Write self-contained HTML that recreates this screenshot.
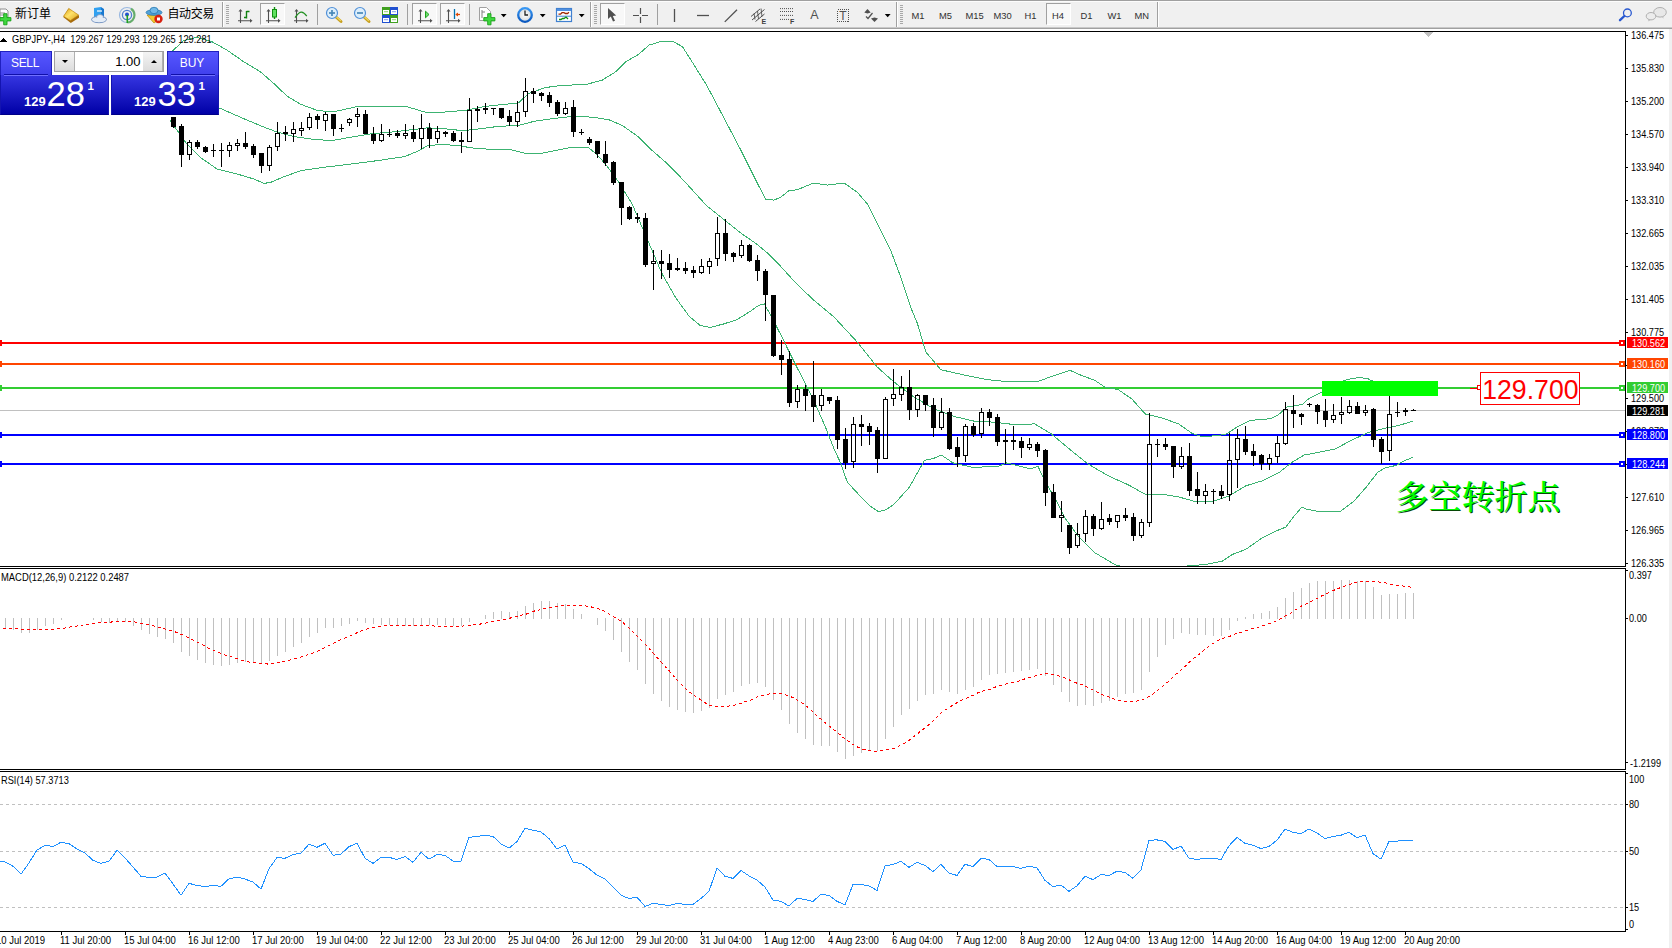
<!DOCTYPE html><html><head><meta charset="utf-8"><title>GBPJPY H4</title><style>
html,body{margin:0;padding:0;background:#fff}
body{width:1672px;height:948px;position:relative;overflow:hidden;font-family:"Liberation Sans","Noto Sans CJK SC",sans-serif}
.t{position:absolute;white-space:nowrap;line-height:1.15;font-family:"Liberation Sans","Noto Sans CJK SC",sans-serif}
#panel .t{line-height:1.15}
.pb{position:absolute;background:linear-gradient(#5656ff,#4040ec);box-sizing:border-box;border:1px solid #2020c0;border-bottom:none}
.pp{position:absolute;background:linear-gradient(#3636e2,#0000a6);box-sizing:border-box;border-left:1px solid #1414b0;border-right:1px solid #1414b0;border-bottom:1px solid #000088}
.sb{position:absolute;background:linear-gradient(#f4f4f4,#dcdcdc);border-right:1px solid #b0b0b0;box-sizing:border-box}
.tri{position:absolute;width:0;height:0;border-left:3px solid transparent;border-right:3px solid transparent}
#tb{position:absolute;left:0;top:0;width:1672px;height:31px;background:#f0f0f0}
.prs{position:absolute;box-sizing:border-box;background:#f8f8f8;border-left:1px solid #a0a0a0;border-top:1px solid #a0a0a0;border-right:1px solid #fff;border-bottom:1px solid #fff}
</style></head><body><svg width="1672" height="948" viewBox="0 0 1672 948" style="position:absolute;left:0;top:0" shape-rendering="crispEdges"><defs><clipPath id="mainclip"><rect x="0" y="32" width="1625" height="534"/></clipPath></defs><rect x="0" y="410" width="1625" height="1" fill="#c0c0c0" /><rect x="0" y="342" width="1625" height="2" fill="#ff0000" /><rect x="0" y="340" width="2" height="6" fill="#ff0000" /><rect x="0" y="363" width="1625" height="2" fill="#ff4500" /><rect x="0" y="361" width="2" height="6" fill="#ff4500" /><rect x="0" y="387" width="1625" height="2" fill="#32cd32" /><rect x="0" y="385" width="2" height="6" fill="#32cd32" /><rect x="0" y="434" width="1625" height="2" fill="#0000ff" /><rect x="0" y="432" width="2" height="6" fill="#0000ff" /><rect x="0" y="463" width="1625" height="2" fill="#0000ff" /><rect x="0" y="461" width="2" height="6" fill="#0000ff" /><g clip-path="url(#mainclip)"><polyline points="171.0,52.0 175.5,48.2 183.5,40.5 196.9,37.4 212.0,41.7 227.0,50.1 243.8,61.8 260.5,71.9 273.9,83.6 287.3,96.3 300.7,104.3 317.4,110.4 332.5,112.0 347.6,108.7 357.6,106.4 384.4,106.4 407.9,107.0 424.6,112.0 444.7,112.0 464.8,110.4 484.9,106.4 505.0,104.3 518.4,103.0 528.4,93.6 545.2,87.6 561.9,85.3 585.4,84.6 602.1,80.2 615.5,71.9 625.6,61.8 639.0,54.1 649.0,45.1 662.4,41.1 672.4,41.1 682.5,46.7 690.0,58.5 706.7,85.3 723.5,117.1 740.2,148.9 757.0,182.4 765.4,199.1 773.7,200.1 780.4,197.5 788.8,190.8 797.2,189.7 813.9,183.0 827.3,185.1 844.1,183.0 857.5,192.4 867.5,204.2 877.5,224.2 890.9,251.0 901.0,277.8 911.0,308.0 917.4,323.4 925.8,351.9 940.8,369.7 960.9,374.3 987.7,379.7 1011.2,382.0 1038.0,381.4 1054.7,375.4 1069.8,370.3 1081.5,375.4 1094.9,380.4 1104.9,387.1 1118.3,389.7 1131.7,398.8 1145.1,413.9 1161.9,417.9 1178.6,423.9 1192.0,433.3 1202.1,436.6 1218.8,435.6 1226.7,433.8 1236.8,427.1 1250.2,420.4 1270.3,418.7 1278.7,414.5 1287.1,407.0 1302.2,404.5 1308.9,398.6 1320.7,392.7 1337.4,383.5 1347.5,379.3 1359.2,377.6 1367.6,378.5 1371.0,380.5 1385.0,384.0 1400.0,386.0 1413.0,386.0" fill="none" stroke="#3cb371" stroke-width="1" /><polyline points="218.7,107.7 243.8,118.7 263.9,127.1 277.3,132.1 294.0,136.5 314.1,139.5 332.5,140.5 350.9,137.2 371.0,133.8 391.1,132.1 411.2,129.8 427.9,127.8 444.7,128.8 461.4,130.5 471.5,129.8 498.3,126.4 518.4,125.4 535.1,121.1 551.9,118.7 572.0,116.4 592.0,117.1 608.8,119.7 622.2,125.4 638.9,137.2 652.3,150.6 665.7,162.3 679.1,175.7 690.0,187.4 706.7,205.8 723.5,219.2 740.2,232.6 757.0,244.3 767.0,252.7 780.4,266.1 797.2,284.5 813.6,300.0 833.7,316.7 857.1,341.9 877.2,367.0 894.0,382.0 914.1,397.1 934.1,408.8 954.2,416.5 974.3,421.2 994.4,422.2 1014.5,424.6 1034.6,423.9 1051.4,434.0 1071.4,450.7 1088.2,464.1 1108.3,475.8 1128.4,484.9 1145.1,494.2 1161.9,494.2 1178.6,496.9 1195.4,501.6 1212.1,501.6 1228.9,495.9 1245.6,485.9 1262.3,480.8 1279.1,472.5 1292.0,462.3 1303.9,455.1 1319.5,452.1 1335.0,449.1 1351.8,440.1 1368.5,432.4 1387.7,427.6 1399.6,425.2 1412.8,421.2" fill="none" stroke="#3cb371" stroke-width="1" /><polyline points="170.0,120.4 186.8,143.9 200.2,157.3 217.0,169.0 237.1,174.0 253.8,179.0 263.9,183.4 270.6,182.4 284.0,176.7 300.7,170.7 324.1,167.3 350.9,164.0 377.7,160.6 404.5,156.6 417.9,151.2 428.0,145.5 441.4,144.5 458.1,145.5 471.5,147.9 498.3,149.9 511.7,149.9 525.1,153.2 541.8,153.2 558.6,149.9 572.0,147.2 588.7,147.9 595.4,153.2 605.5,164.0 618.9,182.4 632.2,204.2 642.3,227.6 652.3,251.0 662.4,274.5 675.8,297.9 689.2,316.3 700.0,325.4 710.1,327.4 723.5,324.0 736.9,319.7 750.3,311.3 758.7,305.3 764.3,303.9 770.4,314.7 780.1,333.5 796.8,367.0 805.4,384.0 813.7,400.0 825.5,427.3 833.9,448.6 840.6,463.0 847.3,482.2 859.0,494.8 870.8,506.5 878.3,511.5 885.9,509.9 894.3,504.0 909.4,487.2 917.8,472.1 924.5,460.4 932.9,458.7 941.2,455.0 953.0,462.9 973.1,467.4 998.3,466.3 1006.7,462.9 1018.4,465.8 1030.0,468.8 1038.0,466.4 1044.7,480.8 1054.7,497.6 1064.8,517.7 1078.2,536.1 1094.9,552.8 1115.0,564.6 1130.0,569.0 1170.0,570.0 1188.7,565.6 1205.4,564.6 1222.2,561.2 1232.2,554.5 1245.6,549.5 1262.3,537.8 1275.7,531.1 1285.8,527.1 1294.2,516.0 1301.7,507.3 1307.2,509.3 1320.7,511.8 1340.8,511.0 1354.2,500.9 1365.9,487.5 1377.7,472.4 1384.4,468.2 1396.1,465.4 1404.5,460.7 1412.9,457.3" fill="none" stroke="#3cb371" stroke-width="1" /></g><rect x="173" y="117" width="1" height="11" fill="#000" /><rect x="171" y="117" width="5" height="10" fill="#000" /><rect x="181" y="124" width="1" height="43" fill="#000" /><rect x="179" y="126" width="5" height="29" fill="#000" /><rect x="189" y="140" width="1" height="2" fill="#000" /><rect x="189" y="155" width="1" height="5" fill="#000" /><rect x="187.5" y="142.5" width="4" height="12" fill="none" stroke="#000" stroke-width="1"/><rect x="197" y="140" width="1" height="9" fill="#000" /><rect x="195" y="142" width="5" height="5" fill="#000" /><rect x="205" y="146" width="1" height="7" fill="#000" /><rect x="203" y="147" width="5" height="5" fill="#000" /><rect x="213" y="144" width="1" height="13" fill="#000" /><rect x="211" y="150" width="5" height="1" fill="#000" /><rect x="221" y="143" width="1" height="24" fill="#000" /><rect x="219" y="150" width="5" height="1" fill="#000" /><rect x="229" y="142" width="1" height="3" fill="#000" /><rect x="229" y="151" width="1" height="6" fill="#000" /><rect x="227.5" y="145.5" width="4" height="5" fill="none" stroke="#000" stroke-width="1"/><rect x="237" y="139" width="1" height="4" fill="#000" /><rect x="237" y="146" width="1" height="5" fill="#000" /><rect x="235.5" y="143.5" width="4" height="2" fill="none" stroke="#000" stroke-width="1"/><rect x="245" y="132" width="1" height="17" fill="#000" /><rect x="243" y="143" width="5" height="4" fill="#000" /><rect x="253" y="144" width="1" height="14" fill="#000" /><rect x="251" y="146" width="5" height="9" fill="#000" /><rect x="261" y="153" width="1" height="20" fill="#000" /><rect x="259" y="153" width="5" height="13" fill="#000" /><rect x="269" y="145" width="1" height="2" fill="#000" /><rect x="269" y="166" width="1" height="5" fill="#000" /><rect x="267.5" y="147.5" width="4" height="18" fill="none" stroke="#000" stroke-width="1"/><rect x="277" y="122" width="1" height="11" fill="#000" /><rect x="277" y="147" width="1" height="4" fill="#000" /><rect x="275.5" y="133.5" width="4" height="13" fill="none" stroke="#000" stroke-width="1"/><rect x="285" y="126" width="1" height="15" fill="#000" /><rect x="283" y="132" width="5" height="2" fill="#000" /><rect x="293" y="122" width="1" height="7" fill="#000" /><rect x="293" y="134" width="1" height="8" fill="#000" /><rect x="291.5" y="129.5" width="4" height="4" fill="none" stroke="#000" stroke-width="1"/><rect x="301" y="122" width="1" height="6" fill="#000" /><rect x="301" y="130" width="1" height="6" fill="#000" /><rect x="299.5" y="128.5" width="4" height="2" fill="none" stroke="#000" stroke-width="1"/><rect x="309" y="113" width="1" height="4" fill="#000" /><rect x="309" y="128" width="1" height="2" fill="#000" /><rect x="307.5" y="117.5" width="4" height="10" fill="none" stroke="#000" stroke-width="1"/><rect x="317" y="114" width="1" height="15" fill="#000" /><rect x="315" y="116" width="5" height="4" fill="#000" /><rect x="325" y="112" width="1" height="2" fill="#000" /><rect x="325" y="121" width="1" height="10" fill="#000" /><rect x="323.5" y="114.5" width="4" height="6" fill="none" stroke="#000" stroke-width="1"/><rect x="333" y="114" width="1" height="22" fill="#000" /><rect x="331" y="114" width="5" height="15" fill="#000" /><rect x="341" y="124" width="1" height="8" fill="#000" /><rect x="339" y="128" width="5" height="1" fill="#000" /><rect x="349" y="118" width="1" height="1" fill="#000" /><rect x="349" y="123" width="1" height="3" fill="#000" /><rect x="347.5" y="119.5" width="4" height="3" fill="none" stroke="#000" stroke-width="1"/><rect x="357" y="108" width="1" height="6" fill="#000" /><rect x="357" y="117" width="1" height="10" fill="#000" /><rect x="355.5" y="114.5" width="4" height="2" fill="none" stroke="#000" stroke-width="1"/><rect x="365" y="110" width="1" height="24" fill="#000" /><rect x="363" y="114" width="5" height="20" fill="#000" /><rect x="373" y="127" width="1" height="17" fill="#000" /><rect x="371" y="134" width="5" height="7" fill="#000" /><rect x="381" y="124" width="1" height="10" fill="#000" /><rect x="381" y="141" width="1" height="1" fill="#000" /><rect x="379.5" y="134.5" width="4" height="6" fill="none" stroke="#000" stroke-width="1"/><rect x="389" y="129" width="1" height="8" fill="#000" /><rect x="387" y="134" width="5" height="1" fill="#000" /><rect x="397" y="130" width="1" height="8" fill="#000" /><rect x="395" y="133" width="5" height="3" fill="#000" /><rect x="405" y="124" width="1" height="9" fill="#000" /><rect x="405" y="135" width="1" height="4" fill="#000" /><rect x="403.5" y="133.5" width="4" height="2" fill="none" stroke="#000" stroke-width="1"/><rect x="413" y="125" width="1" height="17" fill="#000" /><rect x="411" y="132" width="5" height="7" fill="#000" /><rect x="421" y="114" width="1" height="14" fill="#000" /><rect x="421" y="139" width="1" height="10" fill="#000" /><rect x="419.5" y="128.5" width="4" height="10" fill="none" stroke="#000" stroke-width="1"/><rect x="429" y="123" width="1" height="25" fill="#000" /><rect x="427" y="128" width="5" height="11" fill="#000" /><rect x="437" y="126" width="1" height="5" fill="#000" /><rect x="437" y="139" width="1" height="4" fill="#000" /><rect x="435.5" y="131.5" width="4" height="7" fill="none" stroke="#000" stroke-width="1"/><rect x="445" y="131" width="1" height="6" fill="#000" /><rect x="443" y="132" width="5" height="2" fill="#000" /><rect x="453" y="131" width="1" height="11" fill="#000" /><rect x="451" y="133" width="5" height="8" fill="#000" /><rect x="461" y="132" width="1" height="21" fill="#000" /><rect x="459" y="140" width="5" height="2" fill="#000" /><rect x="469" y="98" width="1" height="12" fill="#000" /><rect x="467.5" y="110.5" width="4" height="31" fill="none" stroke="#000" stroke-width="1"/><rect x="477" y="106" width="1" height="16" fill="#000" /><rect x="475" y="109" width="5" height="2" fill="#000" /><rect x="485" y="103" width="1" height="11" fill="#000" /><rect x="483" y="108" width="5" height="2" fill="#000" /><rect x="493" y="108" width="1" height="7" fill="#000" /><rect x="491" y="108" width="5" height="1" fill="#000" /><rect x="501" y="108" width="1" height="11" fill="#000" /><rect x="499" y="108" width="5" height="10" fill="#000" /><rect x="509" y="110" width="1" height="16" fill="#000" /><rect x="507" y="116" width="5" height="6" fill="#000" /><rect x="517" y="101" width="1" height="11" fill="#000" /><rect x="517" y="122" width="1" height="5" fill="#000" /><rect x="515.5" y="112.5" width="4" height="9" fill="none" stroke="#000" stroke-width="1"/><rect x="525" y="78" width="1" height="13" fill="#000" /><rect x="525" y="112" width="1" height="5" fill="#000" /><rect x="523.5" y="91.5" width="4" height="20" fill="none" stroke="#000" stroke-width="1"/><rect x="533" y="88" width="1" height="15" fill="#000" /><rect x="531" y="91" width="5" height="3" fill="#000" /><rect x="541" y="92" width="1" height="9" fill="#000" /><rect x="539" y="93" width="5" height="3" fill="#000" /><rect x="549" y="92" width="1" height="15" fill="#000" /><rect x="547" y="95" width="5" height="8" fill="#000" /><rect x="557" y="100" width="1" height="16" fill="#000" /><rect x="555" y="102" width="5" height="12" fill="#000" /><rect x="565" y="102" width="1" height="6" fill="#000" /><rect x="565" y="114" width="1" height="1" fill="#000" /><rect x="563.5" y="108.5" width="4" height="5" fill="none" stroke="#000" stroke-width="1"/><rect x="573" y="100" width="1" height="37" fill="#000" /><rect x="571" y="107" width="5" height="25" fill="#000" /><rect x="581" y="129" width="1" height="6" fill="#000" /><rect x="579" y="132" width="5" height="1" fill="#000" /><rect x="589" y="137" width="1" height="8" fill="#000" /><rect x="587" y="139" width="5" height="4" fill="#000" /><rect x="597" y="141" width="1" height="17" fill="#000" /><rect x="595" y="141" width="5" height="13" fill="#000" /><rect x="605" y="141" width="1" height="25" fill="#000" /><rect x="603" y="154" width="5" height="9" fill="#000" /><rect x="613" y="161" width="1" height="24" fill="#000" /><rect x="611" y="162" width="5" height="21" fill="#000" /><rect x="621" y="182" width="1" height="43" fill="#000" /><rect x="619" y="182" width="5" height="26" fill="#000" /><rect x="629" y="206" width="1" height="14" fill="#000" /><rect x="627" y="207" width="5" height="12" fill="#000" /><rect x="637" y="213" width="1" height="10" fill="#000" /><rect x="635" y="217" width="5" height="2" fill="#000" /><rect x="645" y="213" width="1" height="54" fill="#000" /><rect x="643" y="218" width="5" height="47" fill="#000" /><rect x="653" y="250" width="1" height="11" fill="#000" /><rect x="653" y="264" width="1" height="26" fill="#000" /><rect x="651.5" y="261.5" width="4" height="2" fill="none" stroke="#000" stroke-width="1"/><rect x="661" y="250" width="1" height="29" fill="#000" /><rect x="659" y="261" width="5" height="3" fill="#000" /><rect x="669" y="254" width="1" height="24" fill="#000" /><rect x="667" y="263" width="5" height="7" fill="#000" /><rect x="677" y="258" width="1" height="13" fill="#000" /><rect x="675" y="268" width="5" height="2" fill="#000" /><rect x="685" y="262" width="1" height="12" fill="#000" /><rect x="683" y="268" width="5" height="3" fill="#000" /><rect x="693" y="266" width="1" height="12" fill="#000" /><rect x="691" y="270" width="5" height="3" fill="#000" /><rect x="701" y="259" width="1" height="7" fill="#000" /><rect x="701" y="273" width="1" height="1" fill="#000" /><rect x="699.5" y="266.5" width="4" height="6" fill="none" stroke="#000" stroke-width="1"/><rect x="709" y="258" width="1" height="3" fill="#000" /><rect x="709" y="267" width="1" height="7" fill="#000" /><rect x="707.5" y="261.5" width="4" height="5" fill="none" stroke="#000" stroke-width="1"/><rect x="717" y="217" width="1" height="16" fill="#000" /><rect x="717" y="259" width="1" height="7" fill="#000" /><rect x="715.5" y="233.5" width="4" height="25" fill="none" stroke="#000" stroke-width="1"/><rect x="725" y="219" width="1" height="42" fill="#000" /><rect x="723" y="233" width="5" height="21" fill="#000" /><rect x="733" y="252" width="1" height="10" fill="#000" /><rect x="731" y="253" width="5" height="4" fill="#000" /><rect x="741" y="240" width="1" height="5" fill="#000" /><rect x="741" y="256" width="1" height="2" fill="#000" /><rect x="739.5" y="245.5" width="4" height="10" fill="none" stroke="#000" stroke-width="1"/><rect x="749" y="244" width="1" height="18" fill="#000" /><rect x="747" y="245" width="5" height="16" fill="#000" /><rect x="757" y="255" width="1" height="26" fill="#000" /><rect x="755" y="260" width="5" height="11" fill="#000" /><rect x="765" y="269" width="1" height="52" fill="#000" /><rect x="763" y="271" width="5" height="24" fill="#000" /><rect x="773" y="295" width="1" height="62" fill="#000" /><rect x="771" y="295" width="5" height="61" fill="#000" /><rect x="781" y="340" width="1" height="35" fill="#000" /><rect x="779" y="355" width="5" height="5" fill="#000" /><rect x="789" y="351" width="1" height="56" fill="#000" /><rect x="787" y="359" width="5" height="44" fill="#000" /><rect x="797" y="385" width="1" height="4" fill="#000" /><rect x="797" y="402" width="1" height="6" fill="#000" /><rect x="795.5" y="389.5" width="4" height="12" fill="none" stroke="#000" stroke-width="1"/><rect x="805" y="385" width="1" height="26" fill="#000" /><rect x="803" y="389" width="5" height="7" fill="#000" /><rect x="813" y="361" width="1" height="61" fill="#000" /><rect x="811" y="395" width="5" height="12" fill="#000" /><rect x="821" y="389" width="1" height="6" fill="#000" /><rect x="821" y="406" width="1" height="5" fill="#000" /><rect x="819.5" y="395.5" width="4" height="10" fill="none" stroke="#000" stroke-width="1"/><rect x="829" y="397" width="1" height="7" fill="#000" /><rect x="827" y="397" width="5" height="4" fill="#000" /><rect x="837" y="396" width="1" height="53" fill="#000" /><rect x="835" y="400" width="5" height="40" fill="#000" /><rect x="845" y="428" width="1" height="41" fill="#000" /><rect x="843" y="439" width="5" height="24" fill="#000" /><rect x="853" y="417" width="1" height="7" fill="#000" /><rect x="853" y="462" width="1" height="6" fill="#000" /><rect x="851.5" y="424.5" width="4" height="37" fill="none" stroke="#000" stroke-width="1"/><rect x="861" y="415" width="1" height="31" fill="#000" /><rect x="859" y="424" width="5" height="3" fill="#000" /><rect x="869" y="423" width="1" height="22" fill="#000" /><rect x="867" y="426" width="5" height="6" fill="#000" /><rect x="877" y="427" width="1" height="46" fill="#000" /><rect x="875" y="430" width="5" height="29" fill="#000" /><rect x="885" y="397" width="1" height="2" fill="#000" /><rect x="883.5" y="399.5" width="4" height="59" fill="none" stroke="#000" stroke-width="1"/><rect x="893" y="369" width="1" height="25" fill="#000" /><rect x="893" y="399" width="1" height="7" fill="#000" /><rect x="891.5" y="394.5" width="4" height="4" fill="none" stroke="#000" stroke-width="1"/><rect x="901" y="376" width="1" height="11" fill="#000" /><rect x="901" y="395" width="1" height="6" fill="#000" /><rect x="899.5" y="387.5" width="4" height="7" fill="none" stroke="#000" stroke-width="1"/><rect x="909" y="370" width="1" height="50" fill="#000" /><rect x="907" y="387" width="5" height="23" fill="#000" /><rect x="917" y="394" width="1" height="1" fill="#000" /><rect x="917" y="410" width="1" height="7" fill="#000" /><rect x="915.5" y="395.5" width="4" height="14" fill="none" stroke="#000" stroke-width="1"/><rect x="925" y="395" width="1" height="16" fill="#000" /><rect x="923" y="395" width="5" height="10" fill="#000" /><rect x="933" y="398" width="1" height="39" fill="#000" /><rect x="931" y="405" width="5" height="23" fill="#000" /><rect x="941" y="398" width="1" height="14" fill="#000" /><rect x="941" y="428" width="1" height="2" fill="#000" /><rect x="939.5" y="412.5" width="4" height="15" fill="none" stroke="#000" stroke-width="1"/><rect x="949" y="408" width="1" height="42" fill="#000" /><rect x="947" y="412" width="5" height="37" fill="#000" /><rect x="957" y="437" width="1" height="30" fill="#000" /><rect x="955" y="447" width="5" height="10" fill="#000" /><rect x="965" y="424" width="1" height="2" fill="#000" /><rect x="965" y="456" width="1" height="6" fill="#000" /><rect x="963.5" y="426.5" width="4" height="29" fill="none" stroke="#000" stroke-width="1"/><rect x="973" y="423" width="1" height="14" fill="#000" /><rect x="971" y="426" width="5" height="9" fill="#000" /><rect x="981" y="408" width="1" height="4" fill="#000" /><rect x="981" y="434" width="1" height="4" fill="#000" /><rect x="979.5" y="412.5" width="4" height="21" fill="none" stroke="#000" stroke-width="1"/><rect x="989" y="409" width="1" height="17" fill="#000" /><rect x="987" y="412" width="5" height="6" fill="#000" /><rect x="997" y="414" width="1" height="32" fill="#000" /><rect x="995" y="417" width="5" height="25" fill="#000" /><rect x="1005" y="429" width="1" height="35" fill="#000" /><rect x="1003" y="440" width="5" height="2" fill="#000" /><rect x="1013" y="426" width="1" height="24" fill="#000" /><rect x="1011" y="440" width="5" height="2" fill="#000" /><rect x="1021" y="437" width="1" height="21" fill="#000" /><rect x="1019" y="441" width="5" height="7" fill="#000" /><rect x="1029" y="438" width="1" height="6" fill="#000" /><rect x="1029" y="448" width="1" height="2" fill="#000" /><rect x="1027.5" y="444.5" width="4" height="3" fill="none" stroke="#000" stroke-width="1"/><rect x="1037" y="442" width="1" height="15" fill="#000" /><rect x="1035" y="444" width="5" height="7" fill="#000" /><rect x="1045" y="449" width="1" height="57" fill="#000" /><rect x="1043" y="450" width="5" height="43" fill="#000" /><rect x="1053" y="484" width="1" height="34" fill="#000" /><rect x="1051" y="492" width="5" height="26" fill="#000" /><rect x="1061" y="501" width="1" height="14" fill="#000" /><rect x="1061" y="518" width="1" height="14" fill="#000" /><rect x="1059.5" y="515.5" width="4" height="2" fill="none" stroke="#000" stroke-width="1"/><rect x="1069" y="525" width="1" height="29" fill="#000" /><rect x="1067" y="525" width="5" height="23" fill="#000" /><rect x="1077" y="523" width="1" height="11" fill="#000" /><rect x="1077" y="546" width="1" height="2" fill="#000" /><rect x="1075.5" y="534.5" width="4" height="11" fill="none" stroke="#000" stroke-width="1"/><rect x="1085" y="510" width="1" height="6" fill="#000" /><rect x="1085" y="534" width="1" height="8" fill="#000" /><rect x="1083.5" y="516.5" width="4" height="17" fill="none" stroke="#000" stroke-width="1"/><rect x="1093" y="514" width="1" height="22" fill="#000" /><rect x="1091" y="516" width="5" height="13" fill="#000" /><rect x="1101" y="502" width="1" height="17" fill="#000" /><rect x="1101" y="529" width="1" height="1" fill="#000" /><rect x="1099.5" y="519.5" width="4" height="9" fill="none" stroke="#000" stroke-width="1"/><rect x="1109" y="514" width="1" height="11" fill="#000" /><rect x="1107" y="518" width="5" height="4" fill="#000" /><rect x="1117" y="522" width="1" height="6" fill="#000" /><rect x="1115.5" y="515.5" width="4" height="6" fill="none" stroke="#000" stroke-width="1"/><rect x="1125" y="508" width="1" height="13" fill="#000" /><rect x="1123" y="515" width="5" height="3" fill="#000" /><rect x="1133" y="513" width="1" height="28" fill="#000" /><rect x="1131" y="517" width="5" height="19" fill="#000" /><rect x="1141" y="519" width="1" height="3" fill="#000" /><rect x="1141" y="536" width="1" height="2" fill="#000" /><rect x="1139.5" y="522.5" width="4" height="13" fill="none" stroke="#000" stroke-width="1"/><rect x="1149" y="413" width="1" height="31" fill="#000" /><rect x="1149" y="523" width="1" height="4" fill="#000" /><rect x="1147.5" y="444.5" width="4" height="78" fill="none" stroke="#000" stroke-width="1"/><rect x="1157" y="439" width="1" height="18" fill="#000" /><rect x="1155" y="444" width="5" height="1" fill="#000" /><rect x="1165" y="438" width="1" height="12" fill="#000" /><rect x="1163" y="444" width="5" height="3" fill="#000" /><rect x="1173" y="446" width="1" height="32" fill="#000" /><rect x="1171" y="446" width="5" height="21" fill="#000" /><rect x="1181" y="447" width="1" height="9" fill="#000" /><rect x="1181" y="467" width="1" height="2" fill="#000" /><rect x="1179.5" y="456.5" width="4" height="10" fill="none" stroke="#000" stroke-width="1"/><rect x="1189" y="443" width="1" height="53" fill="#000" /><rect x="1187" y="456" width="5" height="35" fill="#000" /><rect x="1197" y="472" width="1" height="32" fill="#000" /><rect x="1195" y="489" width="5" height="7" fill="#000" /><rect x="1205" y="484" width="1" height="7" fill="#000" /><rect x="1205" y="496" width="1" height="8" fill="#000" /><rect x="1203.5" y="491.5" width="4" height="4" fill="none" stroke="#000" stroke-width="1"/><rect x="1213" y="489" width="1" height="15" fill="#000" /><rect x="1211" y="491" width="5" height="1" fill="#000" /><rect x="1221" y="485" width="1" height="14" fill="#000" /><rect x="1219" y="491" width="5" height="5" fill="#000" /><rect x="1229" y="433" width="1" height="27" fill="#000" /><rect x="1229" y="495" width="1" height="6" fill="#000" /><rect x="1227.5" y="460.5" width="4" height="34" fill="none" stroke="#000" stroke-width="1"/><rect x="1237" y="429" width="1" height="9" fill="#000" /><rect x="1237" y="460" width="1" height="28" fill="#000" /><rect x="1235.5" y="438.5" width="4" height="21" fill="none" stroke="#000" stroke-width="1"/><rect x="1245" y="426" width="1" height="29" fill="#000" /><rect x="1243" y="439" width="5" height="13" fill="#000" /><rect x="1253" y="444" width="1" height="22" fill="#000" /><rect x="1251" y="451" width="5" height="5" fill="#000" /><rect x="1261" y="454" width="1" height="16" fill="#000" /><rect x="1259" y="455" width="5" height="9" fill="#000" /><rect x="1269" y="454" width="1" height="4" fill="#000" /><rect x="1269" y="464" width="1" height="6" fill="#000" /><rect x="1267.5" y="458.5" width="4" height="5" fill="none" stroke="#000" stroke-width="1"/><rect x="1277" y="436" width="1" height="7" fill="#000" /><rect x="1277" y="457" width="1" height="6" fill="#000" /><rect x="1275.5" y="443.5" width="4" height="13" fill="none" stroke="#000" stroke-width="1"/><rect x="1285" y="402" width="1" height="7" fill="#000" /><rect x="1285" y="444" width="1" height="1" fill="#000" /><rect x="1283.5" y="409.5" width="4" height="34" fill="none" stroke="#000" stroke-width="1"/><rect x="1293" y="395" width="1" height="33" fill="#000" /><rect x="1291" y="410" width="5" height="4" fill="#000" /><rect x="1301" y="413" width="1" height="12" fill="#000" /><rect x="1299" y="414" width="5" height="3" fill="#000" /><rect x="1309" y="403" width="1" height="4" fill="#000" /><rect x="1307" y="404" width="5" height="1" fill="#000" /><rect x="1317" y="404" width="1" height="20" fill="#000" /><rect x="1315" y="405" width="5" height="7" fill="#000" /><rect x="1325" y="399" width="1" height="28" fill="#000" /><rect x="1323" y="411" width="5" height="9" fill="#000" /><rect x="1333" y="404" width="1" height="11" fill="#000" /><rect x="1333" y="420" width="1" height="3" fill="#000" /><rect x="1331.5" y="415.5" width="4" height="4" fill="none" stroke="#000" stroke-width="1"/><rect x="1341" y="397" width="1" height="15" fill="#000" /><rect x="1341" y="415" width="1" height="9" fill="#000" /><rect x="1339.5" y="412.5" width="4" height="2" fill="none" stroke="#000" stroke-width="1"/><rect x="1349" y="400" width="1" height="6" fill="#000" /><rect x="1349" y="413" width="1" height="1" fill="#000" /><rect x="1347.5" y="406.5" width="4" height="6" fill="none" stroke="#000" stroke-width="1"/><rect x="1357" y="402" width="1" height="12" fill="#000" /><rect x="1355" y="406" width="5" height="8" fill="#000" /><rect x="1365" y="405" width="1" height="5" fill="#000" /><rect x="1365" y="412" width="1" height="4" fill="#000" /><rect x="1363.5" y="410.5" width="4" height="2" fill="none" stroke="#000" stroke-width="1"/><rect x="1373" y="408" width="1" height="39" fill="#000" /><rect x="1371" y="409" width="5" height="31" fill="#000" /><rect x="1381" y="437" width="1" height="27" fill="#000" /><rect x="1379" y="439" width="5" height="13" fill="#000" /><rect x="1389" y="396" width="1" height="18" fill="#000" /><rect x="1389" y="451" width="1" height="10" fill="#000" /><rect x="1387.5" y="414.5" width="4" height="36" fill="none" stroke="#000" stroke-width="1"/><rect x="1397" y="402" width="1" height="15" fill="#000" /><rect x="1395" y="412" width="5" height="1" fill="#000" /><rect x="1405" y="408" width="1" height="8" fill="#000" /><rect x="1403" y="410" width="5" height="2" fill="#000" /><rect x="1413" y="409" width="1" height="2" fill="#000" /><rect x="1411" y="410" width="5" height="1" fill="#000" /><rect x="1322" y="381" width="116" height="15" fill="#00ff00" /><rect x="1470" y="388" width="8" height="1" fill="#ff0000" /><rect x="1477.5" y="385.5" width="3" height="4" fill="#fff" stroke="#f00" stroke-width="1"/><rect x="1480.5" y="372.5" width="99" height="32" fill="#fff" stroke="#f00" stroke-width="1"/><rect x="1620" y="341" width="4" height="4" fill="#fff" stroke="#ff0000" stroke-width="2"/><rect x="1620" y="362" width="4" height="4" fill="#fff" stroke="#ff4500" stroke-width="2"/><rect x="1620" y="386" width="4" height="4" fill="#fff" stroke="#32cd32" stroke-width="2"/><rect x="1620" y="433" width="4" height="4" fill="#fff" stroke="#0000ff" stroke-width="2"/><rect x="1620" y="462" width="4" height="4" fill="#fff" stroke="#0000ff" stroke-width="2"/><rect x="5" y="618" width="1" height="10" fill="#c0c0c0" /><rect x="13" y="618" width="1" height="12" fill="#c0c0c0" /><rect x="21" y="618" width="1" height="15" fill="#c0c0c0" /><rect x="29" y="618" width="1" height="15" fill="#c0c0c0" /><rect x="37" y="618" width="1" height="12" fill="#c0c0c0" /><rect x="45" y="618" width="1" height="8" fill="#c0c0c0" /><rect x="53" y="618" width="1" height="6" fill="#c0c0c0" /><rect x="61" y="618" width="1" height="2" fill="#c0c0c0" /><rect x="93" y="618" width="1" height="2" fill="#c0c0c0" /><rect x="101" y="618" width="1" height="4" fill="#c0c0c0" /><rect x="109" y="618" width="1" height="5" fill="#c0c0c0" /><rect x="117" y="618" width="1" height="4" fill="#c0c0c0" /><rect x="125" y="618" width="1" height="4" fill="#c0c0c0" /><rect x="133" y="618" width="1" height="8" fill="#c0c0c0" /><rect x="141" y="618" width="1" height="12" fill="#c0c0c0" /><rect x="149" y="618" width="1" height="16" fill="#c0c0c0" /><rect x="157" y="618" width="1" height="19" fill="#c0c0c0" /><rect x="165" y="618" width="1" height="21" fill="#c0c0c0" /><rect x="173" y="618" width="1" height="25" fill="#c0c0c0" /><rect x="181" y="618" width="1" height="34" fill="#c0c0c0" /><rect x="189" y="618" width="1" height="38" fill="#c0c0c0" /><rect x="197" y="618" width="1" height="42" fill="#c0c0c0" /><rect x="205" y="618" width="1" height="45" fill="#c0c0c0" /><rect x="213" y="618" width="1" height="47" fill="#c0c0c0" /><rect x="221" y="618" width="1" height="48" fill="#c0c0c0" /><rect x="229" y="618" width="1" height="47" fill="#c0c0c0" /><rect x="237" y="618" width="1" height="45" fill="#c0c0c0" /><rect x="245" y="618" width="1" height="44" fill="#c0c0c0" /><rect x="253" y="618" width="1" height="44" fill="#c0c0c0" /><rect x="261" y="618" width="1" height="45" fill="#c0c0c0" /><rect x="269" y="618" width="1" height="43" fill="#c0c0c0" /><rect x="277" y="618" width="1" height="38" fill="#c0c0c0" /><rect x="285" y="618" width="1" height="34" fill="#c0c0c0" /><rect x="293" y="618" width="1" height="29" fill="#c0c0c0" /><rect x="301" y="618" width="1" height="25" fill="#c0c0c0" /><rect x="309" y="618" width="1" height="19" fill="#c0c0c0" /><rect x="317" y="618" width="1" height="15" fill="#c0c0c0" /><rect x="325" y="618" width="1" height="10" fill="#c0c0c0" /><rect x="333" y="618" width="1" height="10" fill="#c0c0c0" /><rect x="341" y="618" width="1" height="8" fill="#c0c0c0" /><rect x="349" y="618" width="1" height="6" fill="#c0c0c0" /><rect x="357" y="618" width="1" height="3" fill="#c0c0c0" /><rect x="365" y="618" width="1" height="5" fill="#c0c0c0" /><rect x="373" y="618" width="1" height="6" fill="#c0c0c0" /><rect x="381" y="618" width="1" height="7" fill="#c0c0c0" /><rect x="389" y="618" width="1" height="7" fill="#c0c0c0" /><rect x="397" y="618" width="1" height="8" fill="#c0c0c0" /><rect x="405" y="618" width="1" height="8" fill="#c0c0c0" /><rect x="413" y="618" width="1" height="8" fill="#c0c0c0" /><rect x="421" y="618" width="1" height="7" fill="#c0c0c0" /><rect x="429" y="618" width="1" height="7" fill="#c0c0c0" /><rect x="437" y="618" width="1" height="7" fill="#c0c0c0" /><rect x="445" y="618" width="1" height="7" fill="#c0c0c0" /><rect x="453" y="618" width="1" height="8" fill="#c0c0c0" /><rect x="461" y="618" width="1" height="8" fill="#c0c0c0" /><rect x="469" y="618" width="1" height="4" fill="#c0c0c0" /><rect x="485" y="615" width="1" height="4" fill="#c0c0c0" /><rect x="493" y="612" width="1" height="7" fill="#c0c0c0" /><rect x="501" y="611" width="1" height="8" fill="#c0c0c0" /><rect x="509" y="612" width="1" height="7" fill="#c0c0c0" /><rect x="517" y="611" width="1" height="8" fill="#c0c0c0" /><rect x="525" y="606" width="1" height="13" fill="#c0c0c0" /><rect x="533" y="603" width="1" height="16" fill="#c0c0c0" /><rect x="541" y="601" width="1" height="18" fill="#c0c0c0" /><rect x="549" y="601" width="1" height="18" fill="#c0c0c0" /><rect x="557" y="603" width="1" height="16" fill="#c0c0c0" /><rect x="565" y="604" width="1" height="15" fill="#c0c0c0" /><rect x="573" y="609" width="1" height="10" fill="#c0c0c0" /><rect x="581" y="614" width="1" height="5" fill="#c0c0c0" /><rect x="597" y="618" width="1" height="7" fill="#c0c0c0" /><rect x="605" y="618" width="1" height="13" fill="#c0c0c0" /><rect x="613" y="618" width="1" height="22" fill="#c0c0c0" /><rect x="621" y="618" width="1" height="34" fill="#c0c0c0" /><rect x="629" y="618" width="1" height="44" fill="#c0c0c0" /><rect x="637" y="618" width="1" height="52" fill="#c0c0c0" /><rect x="645" y="618" width="1" height="66" fill="#c0c0c0" /><rect x="653" y="618" width="1" height="76" fill="#c0c0c0" /><rect x="661" y="618" width="1" height="83" fill="#c0c0c0" /><rect x="669" y="618" width="1" height="89" fill="#c0c0c0" /><rect x="677" y="618" width="1" height="92" fill="#c0c0c0" /><rect x="685" y="618" width="1" height="94" fill="#c0c0c0" /><rect x="693" y="618" width="1" height="95" fill="#c0c0c0" /><rect x="701" y="618" width="1" height="93" fill="#c0c0c0" /><rect x="709" y="618" width="1" height="90" fill="#c0c0c0" /><rect x="717" y="618" width="1" height="81" fill="#c0c0c0" /><rect x="725" y="618" width="1" height="77" fill="#c0c0c0" /><rect x="733" y="618" width="1" height="74" fill="#c0c0c0" /><rect x="741" y="618" width="1" height="68" fill="#c0c0c0" /><rect x="749" y="618" width="1" height="66" fill="#c0c0c0" /><rect x="757" y="618" width="1" height="65" fill="#c0c0c0" /><rect x="765" y="618" width="1" height="69" fill="#c0c0c0" /><rect x="773" y="618" width="1" height="82" fill="#c0c0c0" /><rect x="781" y="618" width="1" height="92" fill="#c0c0c0" /><rect x="789" y="618" width="1" height="106" fill="#c0c0c0" /><rect x="797" y="618" width="1" height="115" fill="#c0c0c0" /><rect x="805" y="618" width="1" height="121" fill="#c0c0c0" /><rect x="813" y="618" width="1" height="127" fill="#c0c0c0" /><rect x="821" y="618" width="1" height="128" fill="#c0c0c0" /><rect x="829" y="618" width="1" height="128" fill="#c0c0c0" /><rect x="837" y="618" width="1" height="134" fill="#c0c0c0" /><rect x="845" y="618" width="1" height="141" fill="#c0c0c0" /><rect x="853" y="618" width="1" height="138" fill="#c0c0c0" /><rect x="861" y="618" width="1" height="135" fill="#c0c0c0" /><rect x="869" y="618" width="1" height="132" fill="#c0c0c0" /><rect x="877" y="618" width="1" height="133" fill="#c0c0c0" /><rect x="885" y="618" width="1" height="121" fill="#c0c0c0" /><rect x="893" y="618" width="1" height="109" fill="#c0c0c0" /><rect x="901" y="618" width="1" height="97" fill="#c0c0c0" /><rect x="909" y="618" width="1" height="91" fill="#c0c0c0" /><rect x="917" y="618" width="1" height="83" fill="#c0c0c0" /><rect x="925" y="618" width="1" height="77" fill="#c0c0c0" /><rect x="933" y="618" width="1" height="76" fill="#c0c0c0" /><rect x="941" y="618" width="1" height="72" fill="#c0c0c0" /><rect x="949" y="618" width="1" height="74" fill="#c0c0c0" /><rect x="957" y="618" width="1" height="76" fill="#c0c0c0" /><rect x="965" y="618" width="1" height="72" fill="#c0c0c0" /><rect x="973" y="618" width="1" height="69" fill="#c0c0c0" /><rect x="981" y="618" width="1" height="62" fill="#c0c0c0" /><rect x="989" y="618" width="1" height="57" fill="#c0c0c0" /><rect x="997" y="618" width="1" height="56" fill="#c0c0c0" /><rect x="1005" y="618" width="1" height="55" fill="#c0c0c0" /><rect x="1013" y="618" width="1" height="54" fill="#c0c0c0" /><rect x="1021" y="618" width="1" height="53" fill="#c0c0c0" /><rect x="1029" y="618" width="1" height="52" fill="#c0c0c0" /><rect x="1037" y="618" width="1" height="51" fill="#c0c0c0" /><rect x="1045" y="618" width="1" height="58" fill="#c0c0c0" /><rect x="1053" y="618" width="1" height="67" fill="#c0c0c0" /><rect x="1061" y="618" width="1" height="74" fill="#c0c0c0" /><rect x="1069" y="618" width="1" height="84" fill="#c0c0c0" /><rect x="1077" y="618" width="1" height="88" fill="#c0c0c0" /><rect x="1085" y="618" width="1" height="87" fill="#c0c0c0" /><rect x="1093" y="618" width="1" height="88" fill="#c0c0c0" /><rect x="1101" y="618" width="1" height="85" fill="#c0c0c0" /><rect x="1109" y="618" width="1" height="83" fill="#c0c0c0" /><rect x="1117" y="618" width="1" height="79" fill="#c0c0c0" /><rect x="1125" y="618" width="1" height="76" fill="#c0c0c0" /><rect x="1133" y="618" width="1" height="75" fill="#c0c0c0" /><rect x="1141" y="618" width="1" height="72" fill="#c0c0c0" /><rect x="1149" y="618" width="1" height="54" fill="#c0c0c0" /><rect x="1157" y="618" width="1" height="39" fill="#c0c0c0" /><rect x="1165" y="618" width="1" height="27" fill="#c0c0c0" /><rect x="1173" y="618" width="1" height="21" fill="#c0c0c0" /><rect x="1181" y="618" width="1" height="15" fill="#c0c0c0" /><rect x="1189" y="618" width="1" height="16" fill="#c0c0c0" /><rect x="1197" y="618" width="1" height="17" fill="#c0c0c0" /><rect x="1205" y="618" width="1" height="17" fill="#c0c0c0" /><rect x="1213" y="618" width="1" height="18" fill="#c0c0c0" /><rect x="1221" y="618" width="1" height="18" fill="#c0c0c0" /><rect x="1229" y="618" width="1" height="12" fill="#c0c0c0" /><rect x="1237" y="618" width="1" height="3" fill="#c0c0c0" /><rect x="1245" y="617" width="1" height="2" fill="#c0c0c0" /><rect x="1253" y="614" width="1" height="5" fill="#c0c0c0" /><rect x="1261" y="613" width="1" height="6" fill="#c0c0c0" /><rect x="1269" y="611" width="1" height="8" fill="#c0c0c0" /><rect x="1277" y="607" width="1" height="12" fill="#c0c0c0" /><rect x="1285" y="598" width="1" height="21" fill="#c0c0c0" /><rect x="1293" y="592" width="1" height="27" fill="#c0c0c0" /><rect x="1301" y="588" width="1" height="31" fill="#c0c0c0" /><rect x="1309" y="583" width="1" height="36" fill="#c0c0c0" /><rect x="1317" y="581" width="1" height="38" fill="#c0c0c0" /><rect x="1325" y="581" width="1" height="38" fill="#c0c0c0" /><rect x="1333" y="581" width="1" height="38" fill="#c0c0c0" /><rect x="1341" y="580" width="1" height="39" fill="#c0c0c0" /><rect x="1349" y="580" width="1" height="39" fill="#c0c0c0" /><rect x="1357" y="581" width="1" height="38" fill="#c0c0c0" /><rect x="1365" y="581" width="1" height="38" fill="#c0c0c0" /><rect x="1373" y="587" width="1" height="32" fill="#c0c0c0" /><rect x="1381" y="595" width="1" height="24" fill="#c0c0c0" /><rect x="1389" y="594" width="1" height="25" fill="#c0c0c0" /><rect x="1397" y="594" width="1" height="25" fill="#c0c0c0" /><rect x="1405" y="593" width="1" height="26" fill="#c0c0c0" /><rect x="1413" y="593" width="1" height="26" fill="#c0c0c0" /><polyline points="-3.0,628.3 3.4,628.5 16.8,628.9 21.8,629.5 50.3,629.5 63.7,628.5 67.1,627.3 75.5,626.3 87.2,624.3 99.0,622.6 110.7,622.1 117.4,621.3 132.5,621.3 137.6,622.6 147.6,624.3 156.0,626.5 166.1,629.4 172.8,631.0 179.5,633.6 184.5,635.6 191.2,638.9 196.3,641.6 203.0,645.0 208.9,648.3 214.7,650.7 221.4,653.7 227.3,655.7 233.2,657.4 238.2,659.2 244.9,661.2 251.6,662.4 261.7,663.4 268.4,664.1 275.1,663.4 280.0,662.4 286.7,660.7 293.4,659.2 298.5,657.9 305.2,655.7 311.0,653.7 316.9,651.7 322.8,648.6 328.6,645.6 334.5,642.8 340.4,639.8 347.1,637.2 353.0,634.7 358.8,631.9 364.7,629.7 370.6,628.0 376.5,626.8 382.3,626.0 389.0,625.5 431.0,625.5 436.0,626.3 461.2,626.3 466.2,625.5 471.2,625.2 478.0,624.3 484.7,623.5 490.5,621.8 496.4,620.6 502.3,619.8 508.1,618.5 514.0,617.3 519.9,615.4 525.8,614.3 531.6,611.7 538.3,610.1 544.2,608.4 550.1,607.5 556.8,606.4 560.0,605.6 583.5,605.6 590.2,606.7 598.6,608.8 604.5,611.3 610.3,614.8 616.2,618.0 622.1,621.8 628.8,627.7 634.7,633.6 640.5,639.5 646.4,645.3 652.3,652.0 657.3,657.9 662.3,663.3 668.2,669.7 673.2,675.5 678.3,681.4 684.1,687.3 690.9,693.1 696.7,697.3 702.6,701.0 708.5,704.9 714.3,706.2 721.0,706.6 727.8,706.2 737.8,704.5 744.5,701.9 750.4,700.4 756.3,697.3 763.0,695.3 768.9,694.0 774.7,693.5 781.4,693.5 787.3,695.3 793.2,697.7 798.2,701.0 804.9,704.9 810.8,709.9 816.7,715.4 822.5,720.5 828.4,725.5 834.3,730.0 840.0,734.6 840.0,735.5 846.7,740.0 852.6,744.2 858.5,747.6 864.3,749.6 870.2,750.6 876.1,751.4 881.9,750.4 888.6,749.6 894.5,748.4 900.4,745.5 907.1,742.0 912.1,737.8 918.0,733.3 923.9,728.6 930.6,723.2 936.5,717.4 942.3,712.0 948.2,708.1 954.1,704.3 960.8,700.6 966.7,698.1 972.5,695.6 978.4,692.5 984.3,690.5 990.1,689.7 996.0,686.8 1001.9,685.2 1007.8,683.5 1014.5,682.5 1020.3,680.5 1026.2,678.4 1032.1,676.8 1038.0,675.4 1043.8,673.4 1049.7,673.7 1056.4,675.4 1062.3,676.8 1068.1,679.3 1074.9,682.5 1080.7,684.3 1086.6,686.7 1092.5,689.7 1098.3,692.5 1104.2,695.6 1110.1,697.2 1116.8,700.6 1121.7,700.9 1128.4,701.4 1135.1,701.4 1141.0,700.3 1146.8,697.8 1152.7,694.1 1158.6,689.4 1164.5,684.9 1170.3,679.9 1176.2,674.0 1182.1,669.0 1187.9,663.6 1193.8,658.1 1200.5,653.4 1206.4,648.0 1212.3,643.8 1218.1,640.5 1224.0,637.9 1229.9,636.3 1235.8,633.7 1242.5,632.1 1248.3,629.9 1254.2,628.2 1260.1,626.7 1266.8,624.5 1272.7,622.3 1278.5,619.8 1284.4,616.5 1290.3,613.3 1296.1,609.4 1302.0,605.7 1308.7,602.7 1314.6,599.9 1320.5,596.5 1326.3,593.8 1332.2,591.0 1338.1,588.5 1344.0,586.4 1349.8,584.3 1355.7,582.2 1361.6,581.4 1375.0,581.4 1380.9,582.2 1386.7,583.1 1392.6,584.8 1398.5,585.4 1400.0,585.5 1412.0,587.3" fill="none" stroke="#ff0000" stroke-width="1" stroke-dasharray="3 3"/><line x1="0" y1="804.5" x2="1625" y2="804.5" stroke="#c0c0c0" stroke-width="1" stroke-dasharray="3 3"/><line x1="0" y1="851.5" x2="1625" y2="851.5" stroke="#c0c0c0" stroke-width="1" stroke-dasharray="3 3"/><line x1="0" y1="907.5" x2="1625" y2="907.5" stroke="#c0c0c0" stroke-width="1" stroke-dasharray="3 3"/><polyline points="-3.0,861.0 5.0,862.0 13.0,866.2 21.0,874.1 29.0,862.9 37.0,850.0 45.0,845.3 53.0,846.4 61.0,842.3 69.0,843.6 77.0,849.0 85.0,853.0 93.0,860.3 101.0,863.4 109.0,861.2 117.0,850.3 125.0,858.0 133.0,867.0 141.0,876.3 149.0,877.4 157.0,877.1 165.0,873.2 173.0,884.0 181.0,895.2 189.0,883.3 197.0,885.5 205.0,886.6 213.0,885.5 221.0,886.3 229.0,878.8 237.0,877.1 245.0,879.1 253.0,882.1 261.0,889.1 269.0,868.7 277.0,857.5 285.0,858.3 293.0,854.5 301.0,853.3 309.0,844.1 317.0,847.3 325.0,843.3 333.0,855.3 341.0,854.1 349.0,846.6 357.0,843.3 365.0,858.2 373.0,863.4 381.0,857.5 389.0,857.3 397.0,859.5 405.0,856.5 413.0,862.3 421.0,852.3 429.0,859.2 437.0,854.5 445.0,855.3 453.0,861.2 461.0,861.5 469.0,837.4 477.0,836.4 485.0,835.2 493.0,836.4 501.0,843.9 509.0,848.1 517.0,841.6 525.0,828.2 533.0,830.2 541.0,831.9 549.0,838.6 557.0,849.1 565.0,844.9 573.0,862.3 581.0,863.4 589.0,868.7 597.0,875.1 605.0,878.8 613.0,887.1 621.0,895.2 629.0,898.5 637.0,897.2 645.0,906.4 653.0,903.4 661.0,904.4 669.0,905.6 677.0,903.4 685.0,904.4 693.0,904.4 701.0,898.5 709.0,891.3 717.0,868.2 725.0,876.3 733.0,878.4 741.0,870.4 749.0,875.9 757.0,880.1 765.0,887.1 773.0,900.0 781.0,901.4 789.0,906.1 797.0,898.4 805.0,899.4 813.0,901.4 821.0,894.2 829.0,895.5 837.0,901.4 845.0,904.7 853.0,884.6 861.0,884.6 869.0,885.8 877.0,890.5 885.0,865.7 893.0,864.5 901.0,861.2 909.0,867.4 917.0,862.3 925.0,865.4 933.0,871.6 941.0,864.2 949.0,873.2 957.0,875.4 965.0,864.2 973.0,866.7 981.0,858.3 989.0,859.5 997.0,866.5 1005.0,866.5 1013.0,866.5 1021.0,868.4 1029.0,866.2 1037.0,867.9 1045.0,880.4 1053.0,886.6 1061.0,885.1 1069.0,891.3 1077.0,885.8 1085.0,876.3 1093.0,879.6 1101.0,874.6 1109.0,875.4 1117.0,871.2 1125.0,872.4 1133.0,878.3 1141.0,869.9 1149.0,840.2 1157.0,839.9 1165.0,841.4 1173.0,849.5 1181.0,846.1 1189.0,858.2 1197.0,859.5 1205.0,858.2 1213.0,858.2 1221.0,859.5 1229.0,845.8 1237.0,837.4 1245.0,843.3 1253.0,845.3 1261.0,848.6 1269.0,846.4 1277.0,840.2 1285.0,829.0 1293.0,832.4 1301.0,833.5 1309.0,829.0 1317.0,833.0 1325.0,838.6 1333.0,836.4 1341.0,835.2 1349.0,832.2 1357.0,837.7 1365.0,834.9 1373.0,853.6 1381.0,859.2 1389.0,841.4 1397.0,841.1 1405.0,840.3 1413.0,840.3" fill="none" stroke="#1e90ff" stroke-width="1" /><rect x="0" y="31" width="1626" height="1" fill="#000" /><rect x="0" y="566" width="1626" height="1" fill="#000" /><rect x="0" y="568" width="1626" height="1" fill="#000" /><rect x="0" y="769" width="1626" height="1" fill="#000" /><rect x="0" y="771" width="1626" height="1" fill="#000" /><rect x="0" y="931" width="1626" height="1" fill="#000" /><rect x="1625" y="31" width="1" height="536" fill="#000" /><rect x="1625" y="568" width="1" height="202" fill="#000" /><rect x="1625" y="771" width="1" height="161" fill="#000" /><rect x="1626" y="35" width="2" height="1" fill="#000" /><rect x="1626" y="68" width="2" height="1" fill="#000" /><rect x="1626" y="101" width="2" height="1" fill="#000" /><rect x="1626" y="134" width="2" height="1" fill="#000" /><rect x="1626" y="167" width="2" height="1" fill="#000" /><rect x="1626" y="200" width="2" height="1" fill="#000" /><rect x="1626" y="233" width="2" height="1" fill="#000" /><rect x="1626" y="266" width="2" height="1" fill="#000" /><rect x="1626" y="299" width="2" height="1" fill="#000" /><rect x="1626" y="332" width="2" height="1" fill="#000" /><rect x="1626" y="365" width="2" height="1" fill="#000" /><rect x="1626" y="398" width="2" height="1" fill="#000" /><rect x="1626" y="431" width="2" height="1" fill="#000" /><rect x="1626" y="464" width="2" height="1" fill="#000" /><rect x="1626" y="497" width="2" height="1" fill="#000" /><rect x="1626" y="530" width="2" height="1" fill="#000" /><rect x="1626" y="563" width="2" height="1" fill="#000" /><rect x="1626" y="570" width="2" height="1" fill="#000" /><rect x="1626" y="618" width="2" height="1" fill="#000" /><rect x="1626" y="762" width="2" height="1" fill="#000" /><rect x="1626" y="773" width="2" height="1" fill="#000" /><rect x="1626" y="804" width="2" height="1" fill="#000" /><rect x="1626" y="851" width="2" height="1" fill="#000" /><rect x="1626" y="907" width="2" height="1" fill="#000" /><rect x="1626" y="929" width="2" height="1" fill="#000" /><rect x="61" y="932" width="1" height="3" fill="#000" /><rect x="125" y="932" width="1" height="3" fill="#000" /><rect x="189" y="932" width="1" height="3" fill="#000" /><rect x="253" y="932" width="1" height="3" fill="#000" /><rect x="317" y="932" width="1" height="3" fill="#000" /><rect x="381" y="932" width="1" height="3" fill="#000" /><rect x="445" y="932" width="1" height="3" fill="#000" /><rect x="509" y="932" width="1" height="3" fill="#000" /><rect x="573" y="932" width="1" height="3" fill="#000" /><rect x="637" y="932" width="1" height="3" fill="#000" /><rect x="701" y="932" width="1" height="3" fill="#000" /><rect x="765" y="932" width="1" height="3" fill="#000" /><rect x="829" y="932" width="1" height="3" fill="#000" /><rect x="893" y="932" width="1" height="3" fill="#000" /><rect x="957" y="932" width="1" height="3" fill="#000" /><rect x="1021" y="932" width="1" height="3" fill="#000" /><rect x="1085" y="932" width="1" height="3" fill="#000" /><rect x="1149" y="932" width="1" height="3" fill="#000" /><rect x="1213" y="932" width="1" height="3" fill="#000" /><rect x="1277" y="932" width="1" height="3" fill="#000" /><rect x="1341" y="932" width="1" height="3" fill="#000" /><rect x="1405" y="932" width="1" height="3" fill="#000" /><polygon points="1424,32 1433,32 1428.5,37" fill="#c0c0c0"/><polygon points="0,42 7,42 3.5,38" fill="#000"/></svg><div class="t" style="left:1631px;top:30px;font-size:10.4px;color:#000;transform:scaleX(0.88);transform-origin:0 0;">136.475</div><div class="t" style="left:1631px;top:63px;font-size:10.4px;color:#000;transform:scaleX(0.88);transform-origin:0 0;">135.830</div><div class="t" style="left:1631px;top:96px;font-size:10.4px;color:#000;transform:scaleX(0.88);transform-origin:0 0;">135.200</div><div class="t" style="left:1631px;top:129px;font-size:10.4px;color:#000;transform:scaleX(0.88);transform-origin:0 0;">134.570</div><div class="t" style="left:1631px;top:162px;font-size:10.4px;color:#000;transform:scaleX(0.88);transform-origin:0 0;">133.940</div><div class="t" style="left:1631px;top:195px;font-size:10.4px;color:#000;transform:scaleX(0.88);transform-origin:0 0;">133.310</div><div class="t" style="left:1631px;top:228px;font-size:10.4px;color:#000;transform:scaleX(0.88);transform-origin:0 0;">132.665</div><div class="t" style="left:1631px;top:261px;font-size:10.4px;color:#000;transform:scaleX(0.88);transform-origin:0 0;">132.035</div><div class="t" style="left:1631px;top:294px;font-size:10.4px;color:#000;transform:scaleX(0.88);transform-origin:0 0;">131.405</div><div class="t" style="left:1631px;top:327px;font-size:10.4px;color:#000;transform:scaleX(0.88);transform-origin:0 0;">130.775</div><div class="t" style="left:1631px;top:360px;font-size:10.4px;color:#000;transform:scaleX(0.88);transform-origin:0 0;">130.145</div><div class="t" style="left:1631px;top:393px;font-size:10.4px;color:#000;transform:scaleX(0.88);transform-origin:0 0;">129.500</div><div class="t" style="left:1631px;top:426px;font-size:10.4px;color:#000;transform:scaleX(0.88);transform-origin:0 0;">128.870</div><div class="t" style="left:1631px;top:459px;font-size:10.4px;color:#000;transform:scaleX(0.88);transform-origin:0 0;">128.240</div><div class="t" style="left:1631px;top:492px;font-size:10.4px;color:#000;transform:scaleX(0.88);transform-origin:0 0;">127.610</div><div class="t" style="left:1631px;top:525px;font-size:10.4px;color:#000;transform:scaleX(0.88);transform-origin:0 0;">126.965</div><div class="t" style="left:1631px;top:558px;font-size:10.4px;color:#000;transform:scaleX(0.88);transform-origin:0 0;">126.335</div><div class="t" style="left:1627px;top:337px;width:41px;height:11px;background:#ff0000"></div><div class="t" style="left:1631.5px;top:337.5px;font-size:10.4px;color:#fff;transform:scaleX(0.88);transform-origin:0 0;">130.562</div><div class="t" style="left:1627px;top:358px;width:41px;height:11px;background:#ff4500"></div><div class="t" style="left:1631.5px;top:358.5px;font-size:10.4px;color:#fff;transform:scaleX(0.88);transform-origin:0 0;">130.160</div><div class="t" style="left:1627px;top:382px;width:41px;height:11px;background:#32cd32"></div><div class="t" style="left:1631.5px;top:382.5px;font-size:10.4px;color:#fff;transform:scaleX(0.88);transform-origin:0 0;">129.700</div><div class="t" style="left:1627px;top:405px;width:41px;height:11px;background:#000"></div><div class="t" style="left:1631.5px;top:405.5px;font-size:10.4px;color:#fff;transform:scaleX(0.88);transform-origin:0 0;">129.281</div><div class="t" style="left:1627px;top:429px;width:41px;height:11px;background:#0000ff"></div><div class="t" style="left:1631.5px;top:429.5px;font-size:10.4px;color:#fff;transform:scaleX(0.88);transform-origin:0 0;">128.800</div><div class="t" style="left:1627px;top:458px;width:41px;height:11px;background:#0000ff"></div><div class="t" style="left:1631.5px;top:458.5px;font-size:10.4px;color:#fff;transform:scaleX(0.88);transform-origin:0 0;">128.244</div><div class="t" style="left:1629px;top:570px;font-size:10.4px;color:#000;transform:scaleX(0.88);transform-origin:0 0;">0.397</div><div class="t" style="left:1629px;top:612.5px;font-size:10.4px;color:#000;transform:scaleX(0.88);transform-origin:0 0;">0.00</div><div class="t" style="left:1630px;top:757.5px;font-size:10.4px;color:#000;transform:scaleX(0.88);transform-origin:0 0;">-1.2199</div><div class="t" style="left:1629px;top:773.5px;font-size:10.4px;color:#000;transform:scaleX(0.88);transform-origin:0 0;">100</div><div class="t" style="left:1629px;top:798.5px;font-size:10.4px;color:#000;transform:scaleX(0.88);transform-origin:0 0;">80</div><div class="t" style="left:1629px;top:845.5px;font-size:10.4px;color:#000;transform:scaleX(0.88);transform-origin:0 0;">50</div><div class="t" style="left:1629px;top:901.5px;font-size:10.4px;color:#000;transform:scaleX(0.88);transform-origin:0 0;">15</div><div class="t" style="left:1629px;top:918.5px;font-size:10.4px;color:#000;transform:scaleX(0.88);transform-origin:0 0;">0</div><div class="t" style="left:11.5px;top:33.5px;font-size:10.4px;color:#000;transform:scaleX(0.89);transform-origin:0 0;">GBPJPY-,H4&nbsp; 129.267 129.293 129.265 129.281</div><div class="t" style="left:1px;top:571.5px;font-size:10.4px;color:#000;transform:scaleX(0.905);transform-origin:0 0;">MACD(12,26,9) 0.2122 0.2487</div><div class="t" style="left:1px;top:774.5px;font-size:10.4px;color:#000;transform:scaleX(0.89);transform-origin:0 0;">RSI(14) 57.3713</div><div class="t" style="left:-4px;top:935px;font-size:10.4px;color:#000;transform:scaleX(0.915);transform-origin:0 0;">10 Jul 2019</div><div class="t" style="left:60px;top:935px;font-size:10.4px;color:#000;transform:scaleX(0.915);transform-origin:0 0;">11 Jul 20:00</div><div class="t" style="left:124px;top:935px;font-size:10.4px;color:#000;transform:scaleX(0.915);transform-origin:0 0;">15 Jul 04:00</div><div class="t" style="left:188px;top:935px;font-size:10.4px;color:#000;transform:scaleX(0.915);transform-origin:0 0;">16 Jul 12:00</div><div class="t" style="left:252px;top:935px;font-size:10.4px;color:#000;transform:scaleX(0.915);transform-origin:0 0;">17 Jul 20:00</div><div class="t" style="left:316px;top:935px;font-size:10.4px;color:#000;transform:scaleX(0.915);transform-origin:0 0;">19 Jul 04:00</div><div class="t" style="left:380px;top:935px;font-size:10.4px;color:#000;transform:scaleX(0.915);transform-origin:0 0;">22 Jul 12:00</div><div class="t" style="left:444px;top:935px;font-size:10.4px;color:#000;transform:scaleX(0.915);transform-origin:0 0;">23 Jul 20:00</div><div class="t" style="left:508px;top:935px;font-size:10.4px;color:#000;transform:scaleX(0.915);transform-origin:0 0;">25 Jul 04:00</div><div class="t" style="left:572px;top:935px;font-size:10.4px;color:#000;transform:scaleX(0.915);transform-origin:0 0;">26 Jul 12:00</div><div class="t" style="left:636px;top:935px;font-size:10.4px;color:#000;transform:scaleX(0.915);transform-origin:0 0;">29 Jul 20:00</div><div class="t" style="left:700px;top:935px;font-size:10.4px;color:#000;transform:scaleX(0.915);transform-origin:0 0;">31 Jul 04:00</div><div class="t" style="left:764px;top:935px;font-size:10.4px;color:#000;transform:scaleX(0.915);transform-origin:0 0;">1 Aug 12:00</div><div class="t" style="left:828px;top:935px;font-size:10.4px;color:#000;transform:scaleX(0.915);transform-origin:0 0;">4 Aug 23:00</div><div class="t" style="left:892px;top:935px;font-size:10.4px;color:#000;transform:scaleX(0.915);transform-origin:0 0;">6 Aug 04:00</div><div class="t" style="left:956px;top:935px;font-size:10.4px;color:#000;transform:scaleX(0.915);transform-origin:0 0;">7 Aug 12:00</div><div class="t" style="left:1020px;top:935px;font-size:10.4px;color:#000;transform:scaleX(0.915);transform-origin:0 0;">8 Aug 20:00</div><div class="t" style="left:1084px;top:935px;font-size:10.4px;color:#000;transform:scaleX(0.915);transform-origin:0 0;">12 Aug 04:00</div><div class="t" style="left:1148px;top:935px;font-size:10.4px;color:#000;transform:scaleX(0.915);transform-origin:0 0;">13 Aug 12:00</div><div class="t" style="left:1212px;top:935px;font-size:10.4px;color:#000;transform:scaleX(0.915);transform-origin:0 0;">14 Aug 20:00</div><div class="t" style="left:1276px;top:935px;font-size:10.4px;color:#000;transform:scaleX(0.915);transform-origin:0 0;">16 Aug 04:00</div><div class="t" style="left:1340px;top:935px;font-size:10.4px;color:#000;transform:scaleX(0.915);transform-origin:0 0;">19 Aug 12:00</div><div class="t" style="left:1404px;top:935px;font-size:10.4px;color:#000;transform:scaleX(0.915);transform-origin:0 0;">20 Aug 20:00</div><div class="t" style="left:1478.5px;top:373px;width:99px;height:33px;line-height:33px;text-align:center;font-size:28.5px;transform:scaleX(0.935);color:#f00">129.700</div><div class="t" style="left:1395.5px;top:479px;font-size:33px;line-height:38px;font-weight:500;color:#00ff00;text-shadow:1px 1px 0 #064806;font-family:'Liberation Serif','Noto Serif CJK SC',serif">多空转折点</div>
<div id="panel">
 <div class="pb" style="left:0;top:51px;width:52px;height:24px"></div>
 <div class="pb" style="left:167px;top:51px;width:52px;height:24px"></div>
 <div class="pp" style="left:0;top:75px;width:109px;height:40px"></div>
 <div class="pp" style="left:111px;top:75px;width:108px;height:40px"></div>
 <div style="position:absolute;left:4px;top:74px;width:44px;height:1px;background:#1010a8"></div><div style="position:absolute;left:4px;top:75px;width:44px;height:1px;background:#7070ff"></div>
 <div style="position:absolute;left:171px;top:74px;width:44px;height:1px;background:#1010a8"></div><div style="position:absolute;left:171px;top:75px;width:44px;height:1px;background:#7070ff"></div>
 <div style="position:absolute;left:52px;top:47px;width:115px;height:28px;background:#fff"></div>
 <div style="position:absolute;left:54px;top:51px;width:110px;height:21px;background:#fff;border:1px solid #a0a0a0;box-sizing:border-box"></div>
 <div class="sb" style="left:55px;top:52px;width:20px;height:19px"></div>
 <div class="sb" style="left:143px;top:52px;width:20px;height:19px"></div>
 <div class="tri" style="left:61.5px;top:60px;border-top:3px solid #000"></div>
 <div class="tri" style="left:150.5px;top:59.5px;border-bottom:3px solid #000"></div>
 <div class="t" style="left:80.5px;top:55px;width:60px;text-align:right;font-size:13px;color:#000">1.00</div>
 <div class="t" style="left:-1px;top:57px;width:52px;text-align:center;font-size:12px;letter-spacing:-0.3px;color:#fff">SELL</div>
 <div class="t" style="left:166px;top:57px;width:52px;text-align:center;font-size:12px;color:#fff">BUY</div>
 <div class="t" style="left:24px;top:95px;font-size:13px;color:#fff;font-weight:bold">129</div>
 <div class="t" style="left:46.5px;top:75px;font-size:34.5px;color:#fff;line-height:38px">28</div>
 <div class="t" style="left:87.5px;top:80px;font-size:11.5px;color:#fff;font-weight:bold">1</div>
 <div class="t" style="left:134px;top:95px;font-size:13px;color:#fff;font-weight:bold">129</div>
 <div class="t" style="left:157.5px;top:75px;font-size:34.5px;color:#fff;line-height:38px">33</div>
 <div class="t" style="left:198.5px;top:80px;font-size:11.5px;color:#fff;font-weight:bold">1</div>
</div>
<div id="tb">
<div style="position:absolute;left:0;top:0;width:1672px;height:1px;background:#a0a0a0"></div>
<div style="position:absolute;left:0;top:1px;width:1672px;height:1px;background:#fcfcfc"></div>
<div style="position:absolute;left:0;top:27px;width:1672px;height:1px;background:#c8c8c8"></div>
<div style="position:absolute;left:0;top:28px;width:1672px;height:1px;background:#a0a0a0"></div>
<div style="position:absolute;left:0;top:29px;width:1672px;height:2px;background:#fff"></div>
<div class="prs" style="left:260px;top:3px;width:25px;height:22px"></div>
<div class="prs" style="left:412px;top:3px;width:25px;height:22px"></div>
<div class="prs" style="left:440px;top:3px;width:25px;height:22px"></div>
<div class="prs" style="left:600px;top:3px;width:25px;height:22px"></div>
<div class="prs" style="left:1046px;top:3px;width:25px;height:22px"></div>
<div style="position:absolute;left:222px;top:2px;width:1px;height:25px;background:#a0a0a0"></div><div style="position:absolute;left:223px;top:2px;width:1px;height:25px;background:#fff"></div>
<div style="position:absolute;left:590px;top:2px;width:1px;height:25px;background:#a0a0a0"></div><div style="position:absolute;left:591px;top:2px;width:1px;height:25px;background:#fff"></div>
<div style="position:absolute;left:896px;top:2px;width:1px;height:25px;background:#a0a0a0"></div><div style="position:absolute;left:897px;top:2px;width:1px;height:25px;background:#fff"></div>
<div style="position:absolute;left:1157px;top:2px;width:1px;height:25px;background:#a0a0a0"></div><div style="position:absolute;left:1158px;top:2px;width:1px;height:25px;background:#fff"></div>
<div style="position:absolute;left:317px;top:4px;width:1px;height:21px;background:#a0a0a0"></div>
<div style="position:absolute;left:407px;top:4px;width:1px;height:21px;background:#a0a0a0"></div>
<div style="position:absolute;left:469px;top:4px;width:1px;height:21px;background:#a0a0a0"></div>
<div style="position:absolute;left:657px;top:4px;width:1px;height:21px;background:#a0a0a0"></div>
<div style="position:absolute;left:226px;top:5px;width:3px;height:20px;background:repeating-linear-gradient(#a8a8a8 0,#a8a8a8 1px,transparent 1px,transparent 2px)"></div>
<div style="position:absolute;left:594px;top:5px;width:3px;height:20px;background:repeating-linear-gradient(#a8a8a8 0,#a8a8a8 1px,transparent 1px,transparent 2px)"></div>
<div style="position:absolute;left:900px;top:5px;width:3px;height:20px;background:repeating-linear-gradient(#a8a8a8 0,#a8a8a8 1px,transparent 1px,transparent 2px)"></div>
<svg width="1672" height="31" viewBox="0 0 1672 31" style="position:absolute;left:0;top:0"><path d="M0 9h6l2 2v7h-8z" fill="#fff" stroke="#909090"/><path d="M0 13h5M0 15h5" stroke="#909090" stroke-width="1"/><path d="M3.7 13.7v3.9h-3.9v3.3h3.9v3.9h3.3v-3.9h3.9v-3.3h-3.9v-3.9z" fill="#40d840" stroke="#18a018" stroke-width="0.9"/><defs><linearGradient id="gd" x1="0" y1="0" x2="1" y2="1"><stop offset="0" stop-color="#d89a10"/><stop offset="0.45" stop-color="#ffe26a"/><stop offset="1" stop-color="#d8a018"/></linearGradient></defs><path d="M63.2 17L68.6 8.6L79 15.6L79 17.8L70.8 22.9Z" fill="#a86c0c"/><path d="M63.6 16.2L68.8 8.4L78.6 15L70.4 20.6Z" fill="url(#gd)" stroke="#c08a10" stroke-width="0.6"/><path d="M94 8l7-1v11h-7z" fill="#30a0f0"/><path d="M101 7l3 2v9h-3z" fill="#1878d0"/><path d="M97 11h5" stroke="#fff" stroke-width="1.2"/><ellipse cx="99" cy="19.5" rx="7.5" ry="3.2" fill="#e4ecf6" stroke="#7090c0" stroke-width="1"/><ellipse cx="100" cy="17" rx="3.5" ry="2.5" fill="#e4ecf6" stroke="#7090c0" stroke-width="0.8"/><ellipse cx="99" cy="19.8" rx="6.6" ry="2.4" fill="#e4ecf6"/><circle cx="127" cy="15" r="7.5" fill="none" stroke="#9ab8e0" stroke-width="1.2"/><circle cx="127" cy="15" r="4.6" fill="none" stroke="#5080d0" stroke-width="1.3"/><path d="M127.5 22.5A7.5 7.5 0 0 0 134.5 15A7.5 7.5 0 0 0 131 8.8" fill="none" stroke="#58a858" stroke-width="2.2" opacity="0.85"/><circle cx="127" cy="14.5" r="2" fill="#2050d0"/><path d="M127.3 15v8" stroke="#20a020" stroke-width="1.6"/><path d="M147 15L160 15L158 20L154 23Z" fill="#f0c830" stroke="#c09010" stroke-width="0.8"/><ellipse cx="154" cy="12.5" rx="8" ry="2.8" fill="#50a0d8" stroke="#2878b0" stroke-width="0.8"/><ellipse cx="154" cy="10.5" rx="4" ry="3.2" fill="#70b8e8" stroke="#2878b0" stroke-width="0.8"/><circle cx="158.5" cy="19" r="4.2" fill="#d82010"/><rect x="157" y="17.5" width="3" height="3" fill="#fff"/><path d="M240.5 10V23M238 20.8H251" stroke="#505050" stroke-width="1.1" fill="none"/><path d="M238.5 11.5L240.5 9L242.5 11.5Z" fill="#505050"/><path d="M250 18.8L252.5 20.8L250 22.8Z" fill="#505050"/><path d="M246.5 11v7.5M246.5 11.5h3M244 17.5h2.5" stroke="#108010" stroke-width="1.4" fill="none"/><path d="M268.5 10V23M266 20.8H279" stroke="#505050" stroke-width="1.1" fill="none"/><path d="M266.5 11.5L268.5 9L270.5 11.5Z" fill="#505050"/><path d="M278 18.8L280.5 20.8L278 22.8Z" fill="#505050"/><path d="M274.5 7v12" stroke="#109010" stroke-width="1.4"/><rect x="272.5" y="9.5" width="4" height="7.5" fill="#60e060" stroke="#109010" stroke-width="1"/><path d="M296.5 10V23M294 20.8H307" stroke="#505050" stroke-width="1.1" fill="none"/><path d="M294.5 11.5L296.5 9L298.5 11.5Z" fill="#505050"/><path d="M306 18.8L308.5 20.8L306 22.8Z" fill="#505050"/><path d="M295 17.6Q299 12 301.5 12.2T306.8 16.2" stroke="#209020" stroke-width="1.2" fill="none"/><path d="M336 17L341 21.5" stroke="#c8a020" stroke-width="3" stroke-linecap="round"/><path d="M336.2 16.6L340.8 20.8" stroke="#f0d860" stroke-width="1.2"/><circle cx="332" cy="13" r="5.5" fill="#dceefb" stroke="#5090d8" stroke-width="1.2"/><path d="M329 13h6" stroke="#4888b8" stroke-width="1.7"/><path d="M332 10v6" stroke="#4888b8" stroke-width="1.7"/><path d="M364 17L369 21.5" stroke="#c8a020" stroke-width="3" stroke-linecap="round"/><path d="M364.2 16.6L368.8 20.8" stroke="#f0d860" stroke-width="1.2"/><circle cx="360" cy="13" r="5.5" fill="#dceefb" stroke="#5090d8" stroke-width="1.2"/><path d="M357 13h6" stroke="#4888b8" stroke-width="1.7"/><rect x="382" y="7" width="8" height="8" fill="#40a020"/><rect x="383" y="10" width="6" height="4" fill="#fff"/><rect x="384" y="11.2" width="4" height="1" fill="#90d070"/><rect x="390" y="7" width="8" height="8" fill="#2050d0"/><rect x="391" y="10" width="6" height="4" fill="#fff"/><rect x="392" y="11.2" width="4" height="1" fill="#80a0f0"/><rect x="382" y="15" width="8" height="8" fill="#2050d0"/><rect x="383" y="18" width="6" height="4" fill="#fff"/><rect x="384" y="19.2" width="4" height="1" fill="#80a0f0"/><rect x="390" y="15" width="8" height="8" fill="#40a020"/><rect x="391" y="18" width="6" height="4" fill="#fff"/><rect x="392" y="19.2" width="4" height="1" fill="#90d070"/><path d="M420.5 10V23M418 20.8H431" stroke="#505050" stroke-width="1.1" fill="none"/><path d="M418.5 11.5L420.5 9L422.5 11.5Z" fill="#505050"/><path d="M430 18.8L432.5 20.8L430 22.8Z" fill="#505050"/><path d="M425.5 11.2L429 14.5L425.5 17.8Z" fill="#70e070" stroke="#20a020" stroke-width="1"/><path d="M448.5 10V23M446 20.8H459" stroke="#505050" stroke-width="1.1" fill="none"/><path d="M446.5 11.5L448.5 9L450.5 11.5Z" fill="#505050"/><path d="M458 18.8L460.5 20.8L458 22.8Z" fill="#505050"/><path d="M454.5 9v10" stroke="#0070b0" stroke-width="1.3"/><path d="M460 14.5h-4" stroke="#e04800" stroke-width="1.3"/><path d="M455.3 14.5L458 12.5V16.5Z" fill="#e04800"/><path d="M479.5 7.5h7l4 4v9h-11z" fill="#fff" stroke="#a0a0a0"/><path d="M482 10v8M482 12h3" stroke="#808080" stroke-width="1"/><path d="M487.7 13.7v3.9h-3.9v3.3h3.9v3.9h3.3v-3.9h3.9v-3.3h-3.9v-3.9z" fill="#40d840" stroke="#18a018" stroke-width="0.9"/><path d="M500.8 14h5.8l-2.9 3.3z" fill="#000"/><defs><linearGradient id="ck" x1="0" y1="0" x2="0" y2="1"><stop offset="0" stop-color="#3898f4"/><stop offset="1" stop-color="#0a58c0"/></linearGradient><radialGradient id="cf"><stop offset="0" stop-color="#ffffff"/><stop offset="1" stop-color="#d4d8dc"/></radialGradient></defs><circle cx="525" cy="15" r="6.8" fill="url(#cf)" stroke="url(#ck)" stroke-width="2.3"/><path d="M525 10.5v4.5h3" stroke="#202020" stroke-width="1.3" fill="none"/><path d="M539.8 14h5.8l-2.9 3.3z" fill="#000"/><rect x="556.5" y="8.5" width="15" height="13" fill="#fff" stroke="#4080d0" stroke-width="1.2"/><rect x="557" y="9" width="14" height="2" fill="#5090e0"/><path d="M557 16.2h14" stroke="#4080d0" stroke-width="1"/><path d="M558.5 14.2h2l1.5-1.5h2l1.5 .8h2l1.5-1.2" stroke="#a02800" stroke-width="1.3" fill="none"/><path d="M559 19.5h2l1.5-1h1.5l2-1.5 2 2" stroke="#109010" stroke-width="1.3" fill="none"/><path d="M578.8 14h5.8l-2.9 3.3z" fill="#000"/><path d="M608 8V19L610.8 16.6L613 21.6L615 20.8L612.8 16L616.2 15.4Z" fill="#505050"/><path d="M633 15.5h6M642 15.5h6M640.5 8v6M640.5 17v6" stroke="#505050" stroke-width="1.2"/><path d="M674.5 9v13" stroke="#505050" stroke-width="1.3"/><path d="M697 15.5h12" stroke="#505050" stroke-width="1.3"/><path d="M724.8 21.9L737 9.7" stroke="#505050" stroke-width="1.3"/><path d="M751 16.5L760 9M752 20L764.5 9.5M755.5 21.5L764.5 14" stroke="#505050" stroke-width="1" fill="none"/><path d="M754 13.5l1 6M757.5 11l1 8M761 8.5l1 8" stroke="#505050" stroke-width="0.9"/><path d="M780 8.6h13" stroke="#505050" stroke-width="1" stroke-dasharray="1 1"/><path d="M780 11.5h13" stroke="#505050" stroke-width="1" stroke-dasharray="1 1"/><path d="M780 15.4h13" stroke="#505050" stroke-width="1" stroke-dasharray="1 1"/><path d="M780 19.4h9" stroke="#505050" stroke-width="1" stroke-dasharray="1 1"/><rect x="837.5" y="9.5" width="11" height="12" fill="none" stroke="#505050" stroke-width="1" stroke-dasharray="1 1" shape-rendering="crispEdges"/><path d="M864.3 12.5L867.5 9L870.7 12.5L867.5 13.6Z" fill="#505050"/><path d="M871 18.5L874.5 21.9L878 18.5L874.5 17.4Z" fill="#505050"/><path d="M866 16.5l2 2 4.5-5.5" stroke="#505050" stroke-width="1.2" fill="none"/><path d="M884.8 14h5.8l-2.9 3.3z" fill="#000"/><circle cx="1627.4" cy="12.9" r="3.9" fill="none" stroke="#2858d0" stroke-width="1.3"/><path d="M1624.4 16L1620 20.2" stroke="#2858d0" stroke-width="2.4" stroke-linecap="round"/><ellipse cx="1660" cy="12.3" rx="6.3" ry="4.8" fill="#e8e8e8" stroke="#a8a8a8" stroke-width="0.9"/><path d="M1661.5 16.5l2 2.2-.3-2.6z" fill="#c0c0c0"/><ellipse cx="1651" cy="16.2" rx="4.8" ry="3.7" fill="#ececec" stroke="#a8a8a8" stroke-width="0.9"/><path d="M1649 19.5l-1.2 2 2.6-1.6z" fill="#b0b0b0"/></svg>
<div class="t" style="left:15px;top:7px;font-size:12px;color:#000;line-height:15px">新订单</div>
<div class="t" style="left:167.5px;top:7px;font-size:12px;color:#000;line-height:15px;letter-spacing:-0.4px">自动交易</div>
<div class="t" style="left:761.5px;top:18px;font-size:7px;color:#404040;font-weight:bold;line-height:7px">E</div>
<div class="t" style="left:790px;top:18px;font-size:7px;color:#404040;font-weight:bold;line-height:7px">F</div>
<div class="t" style="left:810.2px;top:8.4px;font-size:12.5px;color:#505050;line-height:14px">A</div>
<div class="t" style="left:839.3px;top:9.6px;font-size:12px;color:#505050;line-height:13px">T</div>
<div class="t" style="left:911.5px;top:10px;font-size:9.4px;color:#303030;line-height:12px">M1</div>
<div class="t" style="left:939px;top:10px;font-size:9.4px;color:#303030;line-height:12px">M5</div>
<div class="t" style="left:965.5px;top:10px;font-size:9.4px;color:#303030;line-height:12px">M15</div>
<div class="t" style="left:993.5px;top:10px;font-size:9.4px;color:#303030;line-height:12px">M30</div>
<div class="t" style="left:1024.5px;top:10px;font-size:9.4px;color:#303030;line-height:12px">H1</div>
<div class="t" style="left:1052px;top:10px;font-size:9.4px;color:#303030;line-height:12px">H4</div>
<div class="t" style="left:1080.5px;top:10px;font-size:9.4px;color:#303030;line-height:12px">D1</div>
<div class="t" style="left:1107.5px;top:10px;font-size:9.4px;color:#303030;line-height:12px">W1</div>
<div class="t" style="left:1134.5px;top:10px;font-size:9.4px;color:#303030;line-height:12px">MN</div>
</div><div style="position:absolute;left:1669px;top:29px;width:3px;height:919px;background:#f0f0f0"></div></body></html>
